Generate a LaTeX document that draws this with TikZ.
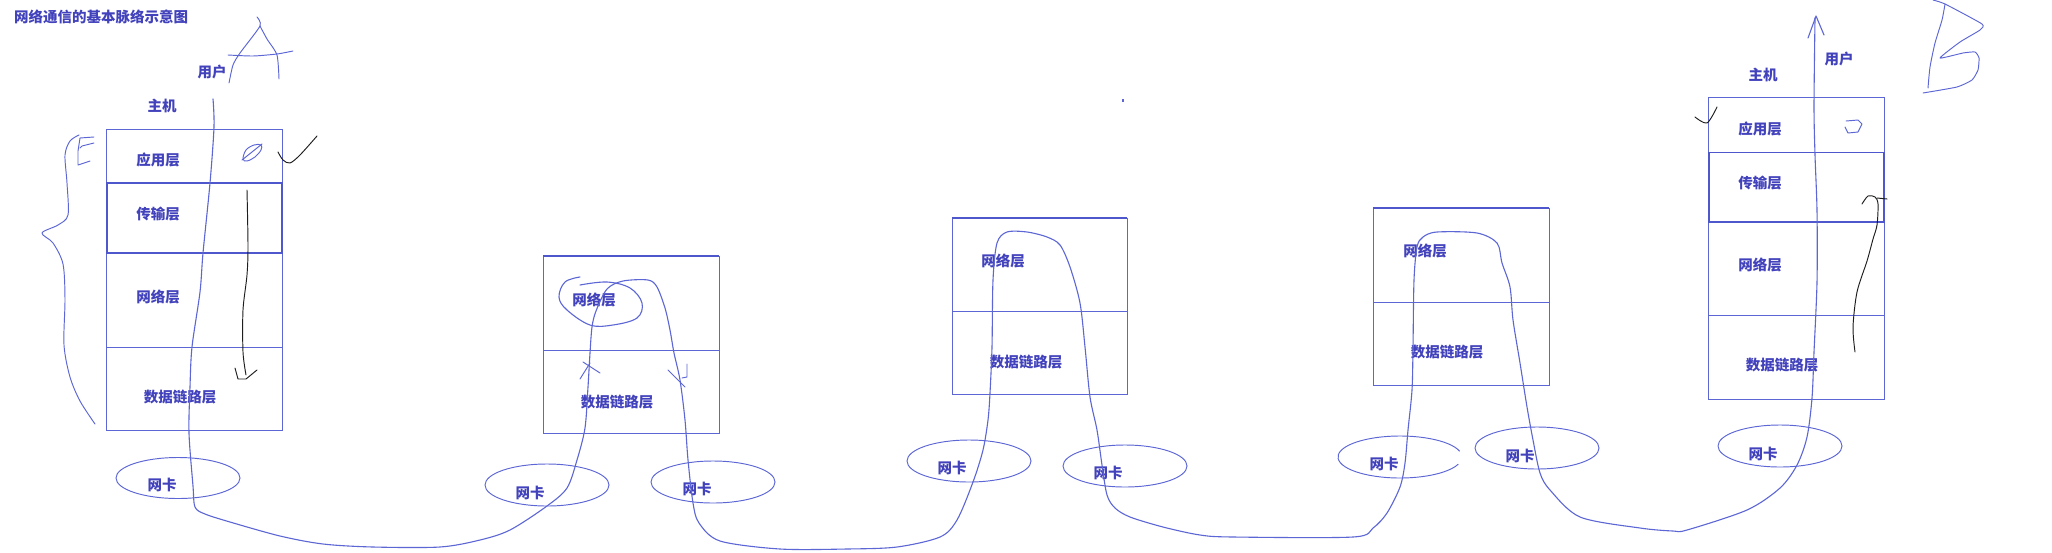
\documentclass[tikz,border=0pt]{standalone}
\usepackage{fontspec}
\newfontfamily\cjk{Noto Sans CJK SC}
\definecolor{lineblue}{RGB}{92,102,212}
\definecolor{darkblue}{RGB}{78,88,204}
\definecolor{txtblue}{RGB}{66,66,188}
\definecolor{inkblack}{RGB}{30,30,30}
\tikzset{
  lbl/.style={font=\cjk\bfseries\fontsize{14.5}{15}\selectfont, text=txtblue, inner sep=0pt},
  layerbox/.style={draw=lineblue, line width=0.95pt},
  thickline/.style={draw=darkblue, line width=1.3pt},
  nic/.style={draw=lineblue, line width=0.95pt},
  pen/.style={draw=lineblue, line width=1.1pt, line join=round, line cap=round},
  blackpen/.style={draw=inkblack, line width=0.95pt, line join=round, line cap=round}
}
\begin{document}
\begin{tikzpicture}[x=1pt,y=-1pt]
\fill[white] (0,0) rectangle (2052,552);
\useasboundingbox (0,0) rectangle (2052,552);

% title
\node[lbl, anchor=west] (title) at (14,17) {网络通信的基本脉络示意图};

% ---------- Host A ----------
\draw[layerbox] (106,129) rectangle (282,430);
\draw[layerbox] (106,183) -- (282,183);
\draw[layerbox] (106,347) -- (282,347);
\draw[thickline] (107,183) rectangle (282,253);
\node[lbl] (hostA) at (162,106) {主机};
\node[lbl] (userA) at (212,72) {用户};
\node[lbl] (appA) at (158,160) {应用层};
\node[lbl] (trA) at (158,214) {传输层};
\node[lbl] (netA) at (158,297) {网络层};
\node[lbl] (dlA) at (180,397) {数据链路层};
\draw[nic] (178,478) ellipse (62pt and 20.5pt);
\node[lbl] (nicA) at (162,485) {网卡};

% ---------- Router box 1 ----------
\draw[layerbox] (543,256) rectangle (719,433);
\draw[layerbox] (543,350) -- (719,350);
\draw[thickline] (543,256) -- (719,256);
\node[lbl] (net1) at (594,300) {网络层};
\node[lbl] (dl1) at (617,402) {数据链路层};
\draw[nic] (547,485) ellipse (62pt and 21pt);
\node[lbl] (nic1a) at (530,493) {网卡};
\draw[nic] (713,482) ellipse (62pt and 21pt);
\node[lbl] (nic1b) at (697,489) {网卡};

% ---------- Router box 2 ----------
\draw[layerbox] (952,218) rectangle (1127,394);
\draw[layerbox] (952,311) -- (1127,311);
\draw[thickline] (952,218) -- (1127,218);
\node[lbl] (net2) at (1003,261) {网络层};
\node[lbl] (dl2) at (1026,362) {数据链路层};
\draw[nic] (969,461) ellipse (62pt and 21pt);
\node[lbl] (nic2a) at (952,468) {网卡};
\draw[nic] (1125,466) ellipse (62pt and 21pt);
\node[lbl] (nic2b) at (1108,473) {网卡};

% ---------- Router box 3 ----------
\draw[layerbox] (1373,208) rectangle (1549,385);
\draw[layerbox] (1373,302) -- (1549,302);
\draw[thickline] (1373,208) -- (1549,208);
\node[lbl] (net3) at (1425,251) {网络层};
\node[lbl] (dl3) at (1447,352) {数据链路层};
\draw[nic] (1400,457) ++(16:62pt and 21pt) arc[start angle=16, end angle=340, x radius=62pt, y radius=21pt];
\node[lbl] (nic3a) at (1384,464) {网卡};
\draw[nic] (1537,448) ellipse (62pt and 21pt);
\node[lbl] (nic3b) at (1520,456) {网卡};

% ---------- Host B ----------
\draw[layerbox] (1708,97) rectangle (1884,399);
\draw[layerbox] (1708,152.5) -- (1884,152.5);
\draw[layerbox] (1708,315.5) -- (1884,315.5);
\draw[thickline] (1709,152.5) rectangle (1884,222);
\node[lbl] (hostB) at (1763,75) {主机};
\node[lbl] (userB) at (1839,59) {用户};
\node[lbl] (appB) at (1760,129) {应用层};
\node[lbl] (trB) at (1760,183) {传输层};
\node[lbl] (netB) at (1760,265) {网络层};
\node[lbl] (dlB) at (1782,365) {数据链路层};
\draw[nic] (1780,446) ellipse (62pt and 21pt);
\node[lbl] (nicB) at (1763,454) {网卡};

% ---------- main hand-drawn route ----------
\draw[pen] plot[smooth, tension=0.5] coordinates {
 (213,99) (214,127) (210,183) (203,253) (200,292) (192,347) (190,387) (189,433)
 (193,486) (195,507) (205,514) (230,522) (280,536) (323,544) (373,547) (440,547)
 (480,540) (510,530) (547,506) (567,488) (577,460) (585,428) (588,387) (590,353)
 (592,327) (596,311) (607,289) (623,281) (648,280) (657,287) (665,308) (670,330)
 (674,353) (680,380) (685,420) (688,460) (693,503) (699,523) (720,541) (780,549)
 (847,549) (897,547) (940,537) (957,520) (973,482) (983,450) (988,420) (990,393)
 (992,347) (993,280) (997,243) (1007,232) (1027,232) (1047,237) (1060,245) (1070,267)
 (1080,303) (1085,347) (1090,397) (1097,430) (1102,465) (1107,495) (1115,508)
 (1130,517) (1163,527) (1200,535) (1233,537) (1353,537) (1373,528) (1387,513)
 (1400,487) (1405,463) (1408,430) (1412,390) (1413,347) (1414,280) (1417,247)
 (1423,237) (1437,232) (1477,233) (1497,243) (1502,263) (1510,287) (1513,320)
 (1520,363) (1527,407) (1533,440) (1540,473) (1550,490) (1580,517) (1640,528)
 (1673,531) (1687,530) (1747,510) (1780,488) (1797,465) (1807,437) (1812,398)
 (1814,352) (1817,282) (1817,211) (1815,155) (1814,106) (1815,18)};
\draw[pen] (1808,38) -- (1816,16) -- (1824,35);

% loop around 网络层 in box 1
\draw[pen] plot[smooth, tension=0.6] coordinates {
 (580,277) (565,282) (559,297) (567,310) (590,325) (613,325) (637,318) (642,303)
 (630,288) (607,282) (580,285)};
% small direction marks in box 1
\draw[pen, line width=0.95pt] (580,379) -- (590,363);
\draw[pen, line width=0.95pt] (583,362) -- (600,373);
\draw[pen, line width=0.95pt] (668,370) -- (685,387);
\draw[pen, line width=0.95pt] (687,364) -- (687,377) -- (682,378);

% ---------- letters A and B ----------
\draw[pen, line width=0.95pt] plot[smooth, tension=0.4] coordinates {
 (229,83) (233,65) (240,53) (260,26) (257,17)};
\draw[pen, line width=0.95pt] plot[smooth, tension=0.4] coordinates {
 (260,26) (267,39) (277,55) (279,79)};
\draw[pen, line width=0.95pt] plot[smooth, tension=0.4] coordinates {
 (228,55) (253,56) (277,54) (293,51)};

\draw[pen, line width=0.95pt] plot[smooth, tension=0.3] coordinates {
 (1933,0) (1945,4) (1982,24) (1980,30) (1960,42) (1940,58) (1963,53) (1975,52)
 (1979,58) (1978,70) (1972,80) (1957,87) (1923,93)};
\draw[pen, line width=0.95pt] plot[smooth, tension=0.4] coordinates {
 (1945,4) (1942,20) (1935,43) (1930,67) (1928,88)};

% ---------- left brace and scribble ----------
\draw[pen, line width=0.95pt] plot[smooth, tension=0.5] coordinates {
 (79,135) (70,141) (65,155) (67,183) (68,215) (58,225) (42,233) (53,243) (63,264)
 (65,299) (64,345) (70,377) (80,401) (95,424)};
\draw[pen, line width=0.95pt] (94,137) -- (80,138) -- (78,151) -- (78,165) -- (90,161);
\draw[pen, line width=0.95pt] (94,143) -- (82,146) -- (80,148);

% small mark in Host A application layer
\draw[pen, line width=0.95pt] plot[smooth cycle, tension=0.6] coordinates {
 (243,159) (246,150) (254,145) (261,145) (261,150) (255,157) (247,161)};
\draw[pen, line width=0.95pt] (242,160) -- (262,144);

% small mark in Host B application layer
\draw[pen, line width=0.95pt] (1846,121) -- (1858,120) -- (1862,124) -- (1858,132) -- (1848,133) -- (1845,127);

% ---------- black ink ----------
\draw[blackpen] plot[smooth, tension=0.5] coordinates {
 (247,190) (248,246) (247,275) (243,310) (243,352) (246,375)};
\draw[blackpen] (235,368) -- (238,379) -- (246,379) -- (257,370);
\draw[blackpen] plot[smooth, tension=0.5] coordinates {
 (278,152) (283,160) (290,163) (300,155) (317,136)};
\draw[blackpen] plot[smooth, tension=0.5] coordinates {
 (1695,117) (1707,123) (1717,107)};
\draw[blackpen] plot[smooth, tension=0.5] coordinates {
 (1855,352) (1853,327) (1857,292) (1867,261) (1873,239) (1877,225) (1878,204)
 (1875,197) (1868,196) (1862,204)};
\draw[blackpen] (1877,198) -- (1887,199);

% tiny dot
\fill[lineblue] (1122,99) rectangle (1124,102);
\end{tikzpicture}
\end{document}
